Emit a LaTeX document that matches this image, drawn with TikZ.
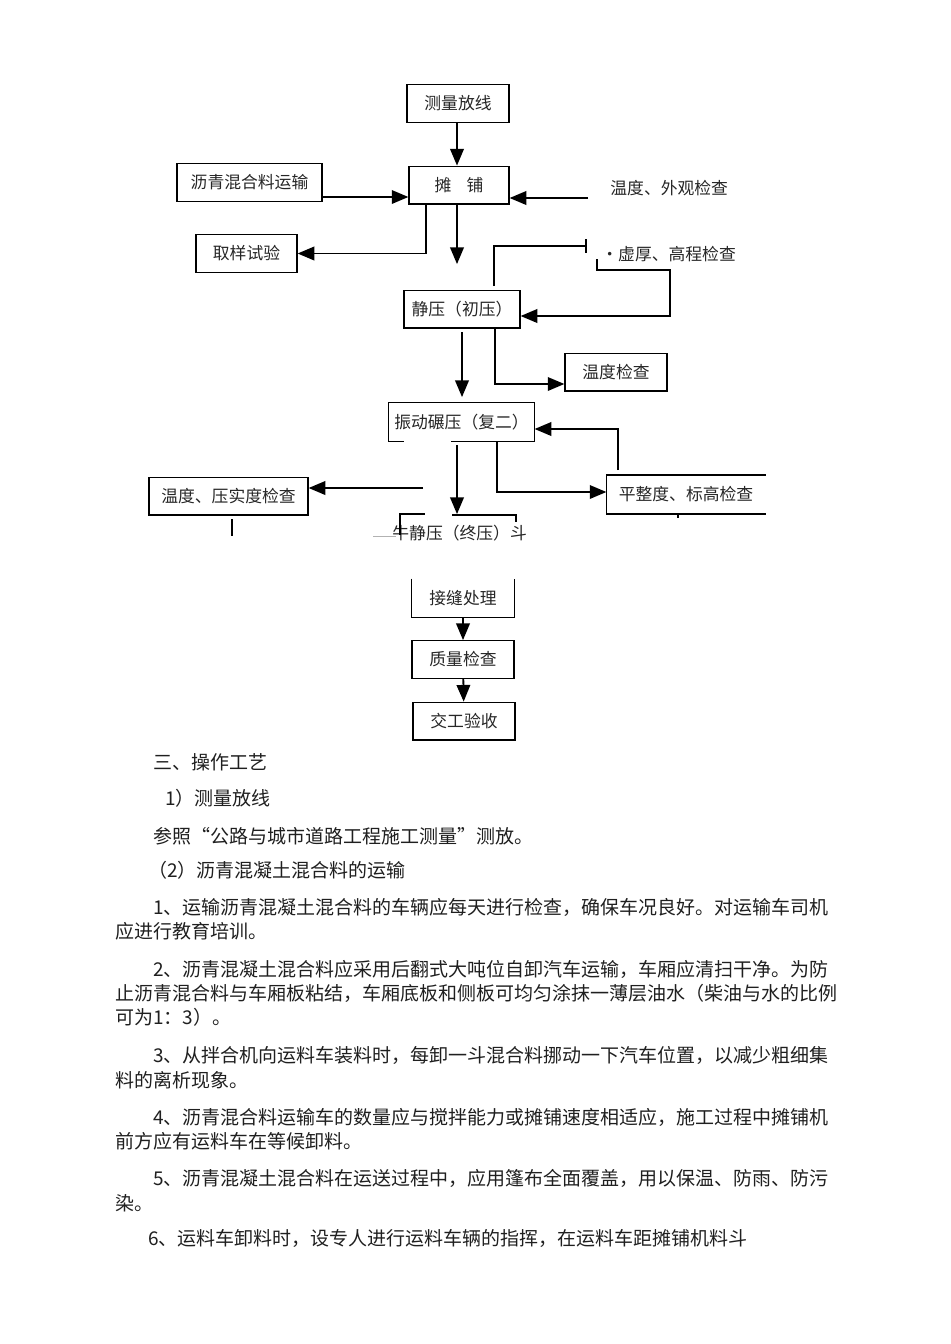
\documentclass[tikz,border=0pt]{standalone}
\usepackage{fontspec}
\setmainfont{Noto Sans CJK SC}
\usetikzlibrary{arrows}

\begin{document}
\begin{tikzpicture}[x=0.5pt,y=-0.5pt,>=triangle 45,
  kuang/.style={draw,line width=0.7pt,minimum width=#1,minimum height=18.8pt,inner sep=0pt,
    text=black!85,font=\fontsize{8.4}{10}\selectfont},
  biaozhu/.style={anchor=west,inner sep=0pt,text=black!85,font=\fontsize{8.4}{10}\selectfont},
  zhengwen/.style={anchor=west,inner sep=0pt,text=black!88,font=\fontsize{9.5}{11}\selectfont},
  jiantou/.style={->,line width=0.9pt},
  xian/.style={line width=0.8pt}]
\useasboundingbox (0,0) rectangle (950,1344);
% boxes of the flow chart
\node[kuang=51pt] (celiang) at (458,103.5) {测量放线};
\node[kuang=50pt] (tanpu) at (459,185) {摊\hspace{0.9em}铺};
\node[kuang=72.5pt] (yunshu) at (249.5,182.5) {沥青混合料运输};
\node[kuang=50.5pt] (quyang) at (246.5,253.5) {取样试验};
\node[kuang=58pt] (jingya) at (462,309) {静压（初压）};
\node[kuang=51pt] (wendu) at (616,372) {温度检查};
\node[kuang=72.5pt,draw=none] (zhendong) at (461.5,422) {振动碾压（复二）};
\node[kuang=79.5pt] (yashi) at (228.5,496) {温度、压实度检查};
\node[kuang=79pt,draw=none] (pingzheng) at (686,494.5) {平整度、标高检查};
\node[kuang=51pt,draw=none] (jiefeng) at (463,598) {接缝处理};
\node[kuang=51pt] (zhiliang) at (463,659.5) {质量检查};
\node[kuang=51pt] (jiaogong) at (464,721) {交工验收};
% boxes with missing sides
\draw[line width=0.7pt] (zhendong.south west) |- (zhendong.north east) -- (zhendong.south east)
  -- ++(-84,0) (zhendong.south west) -- ++(16,0);
\draw[line width=0.7pt] (pingzheng.north east) -- (pingzheng.north west) -- (pingzheng.south west) -- (pingzheng.south east);
\draw[line width=0.7pt] (jiefeng.north west) -- (jiefeng.south west) -- (jiefeng.south east) -- (jiefeng.north east);
% loose labels
\node[biaozhu] (waiguan) at (610,188) {温度、外观检查};
\node[biaozhu] (xuhou) at (601,254) {·虚厚、高程检查};
\node[biaozhu] (zhongya) at (392,533) {牛静压（终压）斗};
% points for the connectors
\coordinate (b1) at (0,197);
\coordinate (c1) at (588,198);
\coordinate (d1) at (426,253);
\coordinate (e1) at (457,264);
\coordinate (f1) at (494,286);
\coordinate (f2) at (587,246);
\coordinate (g1) at (597,259);
\coordinate (g2) at (670,270);
\coordinate (g3) at (670,316);
\coordinate (h1) at (462,332);
\coordinate (h2) at (462,397);
\coordinate (i1) at (495,384);
\coordinate (j1) at (457,445);
\coordinate (j2) at (457,514);
\coordinate (k1) at (423,488);
\coordinate (l1) at (497,492);
\coordinate (m1) at (618,470);
\coordinate (m2) at (618,429);
% connectors
\draw[jiantou] (celiang.south -| e1) -- (tanpu.north -| e1);
\draw[jiantou] (yunshu.east |- b1) -- (tanpu.west |- b1);
\draw[jiantou] (c1) -- (tanpu.east |- c1);
\draw[jiantou] (tanpu.south -| d1) |- (quyang.east);
\draw[jiantou] (tanpu.south -| e1) -- (e1);
\draw[xian,-|] (f1) |- (f2);
\draw[jiantou] (g1) |- (g2) -- (g3) -- (jingya.east |- g3);
\draw[jiantou] (h1) -- (h2);
\draw[jiantou] (jingya.south -| i1) |- (wendu.west |- i1);
\draw[jiantou] (j1) -- (j2);
\draw[jiantou] (k1) -- (yashi.east |- k1);
\draw[jiantou] (zhendong.south -| l1) |- (pingzheng.west |- l1);
\draw[jiantou] (m1) -- (m2) -- (zhendong.east |- m2);
\draw[jiantou] (jiefeng) -- (zhiliang);
\draw[jiantou] (zhiliang) -- (jiaogong);
% odd strokes round the last step
\draw[xian] (400,535) |- (425,514);
\draw[xian] (452,515) -| (516,522);
\draw[xian] (232,519) -- (232,536);
\draw[xian] (678,513) -- (678,518);
\draw[gray!60] (373,536) -- (396,536);
% text below the chart
\node[zhengwen] (t1) at (153,762) {三、操作工艺};
\node[zhengwen] (t2) at (165,798) {1）测量放线};
\node[zhengwen] (t3) at (153,836) {参照“公路与城市道路工程施工测量”测放。};
\node[zhengwen] (t4) at (148,870) {（2）沥青混凝土混合料的运输};
\node[zhengwen] (t5) at (153,907) {1、运输沥青混凝土混合料的车辆应每天进行检查，确保车况良好。对运输车司机};
\node[zhengwen] (t6) at (115,931) {应进行教育培训。};
\node[zhengwen] (t7) at (153,969) {2、沥青混凝土混合料应采用后翻式大吨位自卸汽车运输，车厢应清扫干净。为防};
\node[zhengwen] (t8) at (115,993) {止沥青混合料与车厢板粘结，车厢底板和侧板可均匀涂抹一薄层油水（柴油与水的比例};
\node[zhengwen] (t9) at (115,1017) {可为1：3）。};
\node[zhengwen] (t10) at (153,1055) {3、从拌合机向运料车装料时，每卸一斗混合料挪动一下汽车位置，以减少粗细集};
\node[zhengwen] (t11) at (115,1080) {料的离析现象。};
\node[zhengwen] (t12) at (153,1117) {4、沥青混合料运输车的数量应与搅拌能力或摊铺速度相适应，施工过程中摊铺机};
\node[zhengwen] (t13) at (115,1141) {前方应有运料车在等候卸料。};
\node[zhengwen] (t14) at (153,1178) {5、沥青混凝土混合料在运送过程中，应用篷布全面覆盖，用以保温、防雨、防污};
\node[zhengwen] (t15) at (115,1203) {染。};
\node[zhengwen] (t16) at (148,1238) {6、运料车卸料时，设专人进行运料车辆的指挥，在运料车距摊铺机料斗};
\end{tikzpicture}
\end{document}
